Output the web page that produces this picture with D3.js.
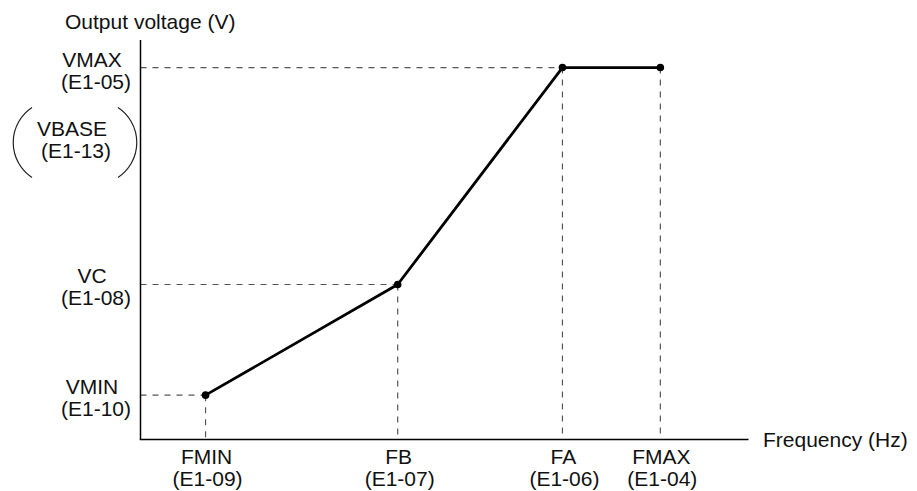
<!DOCTYPE html>
<html>
<head>
<meta charset="utf-8">
<script src="https://cdn.jsdelivr.net/npm/d3@7/dist/d3.min.js"></script>
<style>
  html, body { margin: 0; padding: 0; background: #fff; }
  svg text { font-family: "Liberation Sans", Arial, Helvetica, sans-serif; font-size: 21px; fill: #111; }
</style>
</head>
<body>
<svg id="chart" width="917" height="491"></svg>
<script>
// V/f pattern: frequency break points (relative units along the axis)
const freqNames  = ["FMIN", "FB", "FA", "FMAX"];
const freqParams = ["(E1-09)", "(E1-07)", "(E1-06)", "(E1-04)"];
const freqValues = [10.7, 42.3, 69.4, 85.5];

// Voltage break points (relative units along the axis)
const voltNames  = ["VMIN", "VC", "VMAX"];
const voltParams = ["(E1-10)", "(E1-08)", "(E1-05)"];
const voltValues = [11.1, 38.8, 93.1];

// Alternate label shown in brackets under VMAX
const baseName  = "VBASE";
const baseParam = "(E1-13)";
const baseValue = 75.6;

// Curve points: (FMIN,VMIN) -> (FB,VC) -> (FA,VMAX) -> (FMAX,VMAX)
const curveF = [10.7, 42.3, 69.4, 85.5];
const curveV = [11.1, 38.8, 93.1, 93.1];

const xTitle = "Frequency (Hz)";
const yTitle = "Output voltage (V)";

const svg = d3.select("#chart");
const x = d3.scaleLinear().domain([0, 100]).range([140.5, 748.5]);
const y = d3.scaleLinear().domain([0, 100]).range([439.5, 40]);

const dash = "6,6";
const dashColor = "#555";

// dashed guides: horizontal from the voltage axis, vertical down to the frequency axis
const pts = curveF.map((f, i) => ({ f, v: curveV[i] }));
const hGuides = voltValues.map((v, i) => ({ v, f: freqValues[i] }));
svg.append("g").selectAll("line").data(hGuides).join("line")
  .attr("x1", x(0)).attr("x2", d => x(d.f))
  .attr("y1", d => y(d.v)).attr("y2", d => y(d.v))
  .attr("stroke", dashColor).attr("stroke-width", 1.2).attr("stroke-dasharray", dash);
svg.append("g").selectAll("line").data(pts).join("line")
  .attr("x1", d => x(d.f)).attr("x2", d => x(d.f))
  .attr("y1", d => y(d.v)).attr("y2", y(0))
  .attr("stroke", dashColor).attr("stroke-width", 1.2).attr("stroke-dasharray", dash);

// axes
svg.append("line").attr("x1", x(0)).attr("x2", x(0)).attr("y1", y(100)).attr("y2", y(0))
  .attr("stroke", "#000").attr("stroke-width", 1.5);
svg.append("line").attr("x1", x(0) - 0.75).attr("x2", x(100)).attr("y1", y(0)).attr("y2", y(0))
  .attr("stroke", "#000").attr("stroke-width", 1.5);

// V/f curve
svg.append("path").datum(pts)
  .attr("d", d3.line().x(d => x(d.f)).y(d => y(d.v)))
  .attr("fill", "none").attr("stroke", "#000").attr("stroke-width", 2.8)
  .attr("stroke-linejoin", "round");
svg.append("g").selectAll("circle").data(pts).join("circle")
  .attr("cx", d => x(d.f)).attr("cy", d => y(d.v)).attr("r", 3.8).attr("fill", "#000");

// frequency labels
const fl = svg.append("g").attr("text-anchor", "middle");
freqValues.forEach((f, i) => {
  fl.append("text").attr("x", x(f) + 1).attr("y", y(0) + 24).text(freqNames[i]);
  fl.append("text").attr("x", x(f) + 2).attr("y", y(0) + 46).text(freqParams[i]);
});

// voltage labels
const labelX = 94;
const vl = svg.append("g").attr("text-anchor", "middle");
voltValues.forEach((v, i) => {
  vl.append("text").attr("x", labelX - 2).attr("y", y(v) - 1).text(voltNames[i]);
  vl.append("text").attr("x", labelX + 2).attr("y", y(v) + 21).text(voltParams[i]);
});

// bracketed VBASE label
const bx = 74, by = y(baseValue);
vl.append("text").attr("x", bx - 2).attr("y", by - 1).text(baseName);
vl.append("text").attr("x", bx + 2).attr("y", by + 21).text(baseParam);
const arcTop = by - 30, arcBot = by + 40, arcR = 42;
svg.append("path")
  .attr("d", `M${bx - 42},${arcTop} A${arcR},${arcR} 0 0 0 ${bx - 42},${arcBot}`)
  .attr("fill", "none").attr("stroke", "#222").attr("stroke-width", 1.2);
svg.append("path")
  .attr("d", `M${bx + 44},${arcTop} A${arcR},${arcR} 0 0 1 ${bx + 44},${arcBot}`)
  .attr("fill", "none").attr("stroke", "#222").attr("stroke-width", 1.2);

// axis titles
svg.append("text").attr("x", 65).attr("y", 29).text(yTitle);
svg.append("text").attr("x", 763).attr("y", 447).text(xTitle);
</script>
</body>
</html>
